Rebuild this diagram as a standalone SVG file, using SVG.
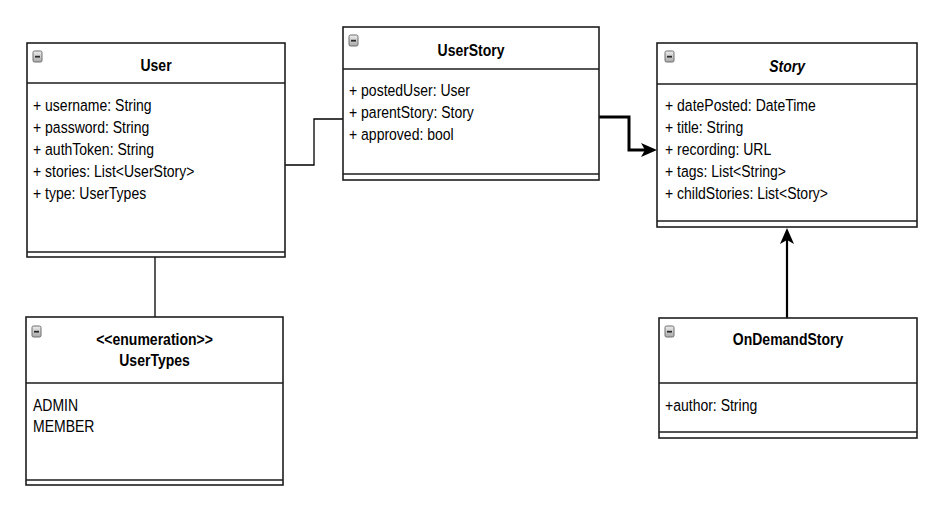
<svg xmlns="http://www.w3.org/2000/svg" width="943" height="510" viewBox="0 0 943 510">
  <defs>
    <linearGradient id="iconFill" x1="0" y1="0" x2="0" y2="1">
      <stop offset="0" stop-color="#eeeeee"/>
      <stop offset="1" stop-color="#a8a8a8"/>
    </linearGradient>
    <!-- collapse button shown in each class header -->
    <g id="collapse">
      <rect x="0" y="0" width="9" height="11" rx="1.5" fill="url(#iconFill)" stroke="#6e6e6e" stroke-width="1"/>
      <rect x="2" y="4.8" width="5" height="1.8" fill="#2a2a2a"/>
    </g>
    <marker id="classic" viewBox="0 0 16 14" refX="4" refY="7" markerWidth="16" markerHeight="14" markerUnits="userSpaceOnUse" orient="auto">
      <path d="M0,0 L16,7 L0,14 L4,7 Z" fill="#000"/>
    </marker>
  </defs>
  <style>
    .box { fill: #fff; stroke: #1e1e1e; stroke-width: 1.6; }
    .sep { stroke: #1e1e1e; stroke-width: 1.6; fill: none; }
    .title { font-family: "Liberation Sans", Arial, Helvetica, sans-serif; font-size: 17px; font-weight: bold; text-anchor: middle; fill: #000; }
    .attr { font-family: "Liberation Sans", Arial, Helvetica, sans-serif; font-size: 17px; fill: #000; }
    .thin { stroke: #000; stroke-width: 1.3; fill: none; }
    .bold { stroke: #000; stroke-width: 3; fill: none; }
    .gen { stroke: #000; stroke-width: 2.2; fill: none; }
  </style>
  <rect width="943" height="510" fill="#fff"/>

  <!-- connectors -->
  <g id="connectors">
    <path class="thin" d="M285,165 H314 V119 H343"/>
    <path class="thin" d="M155,257 V317"/>
    <path class="bold" d="M599,117 H629 V150 H645" marker-end="url(#classic)"/>
    <path class="gen" d="M787,318 V240" marker-end="url(#classic)"/>
  </g>

  <!-- User -->
  <g id="User">
    <rect class="box" x="27" y="43" width="258" height="214"/>
    <path class="sep" d="M27,83 H285 M27,252 H285"/>
    <use href="#collapse" x="33" y="51"/>
    <g transform="translate(33 0) scale(0.824 1)">
      <text class="title" x="149.3" y="71">User</text>
      <text class="attr" x="0" y="111">+ username: String</text>
      <text class="attr" x="0" y="133">+ password: String</text>
      <text class="attr" x="0" y="155">+ authToken: String</text>
      <text class="attr" x="0" y="177">+ stories: List&lt;UserStory&gt;</text>
      <text class="attr" x="0" y="199">+ type: UserTypes</text>
    </g>
  </g>

  <!-- UserStory -->
  <g id="UserStory">
    <rect class="box" x="343" y="27" width="256" height="153"/>
    <path class="sep" d="M343,69 H599 M343,174 H599"/>
    <use href="#collapse" x="349" y="35"/>
    <g transform="translate(349 0) scale(0.824 1)">
      <text class="title" x="148.1" y="56">UserStory</text>
      <text class="attr" x="0" y="96">+ postedUser: User</text>
      <text class="attr" x="0" y="118">+ parentStory: Story</text>
      <text class="attr" x="0" y="140">+ approved: bool</text>
    </g>
  </g>

  <!-- Story (abstract) -->
  <g id="Story">
    <rect class="box" x="657" y="43" width="260" height="184"/>
    <path class="sep" d="M657,84 H917 M657,221 H917"/>
    <use href="#collapse" x="665" y="51"/>
    <g transform="translate(665 0) scale(0.824 1)">
      <text class="title" x="148.1" y="72" font-style="italic">Story</text>
      <text class="attr" x="0" y="111">+ datePosted: DateTime</text>
      <text class="attr" x="0" y="133">+ title: String</text>
      <text class="attr" x="0" y="155">+ recording: URL</text>
      <text class="attr" x="0" y="177">+ tags: List&lt;String&gt;</text>
      <text class="attr" x="0" y="199">+ childStories: List&lt;Story&gt;</text>
    </g>
  </g>

  <!-- UserTypes enumeration -->
  <g id="UserTypes">
    <rect class="box" x="26" y="317" width="257" height="168"/>
    <path class="sep" d="M26,383 H283 M26,480 H283"/>
    <use href="#collapse" x="32" y="326"/>
    <g transform="translate(33 0) scale(0.824 1)">
      <text class="title" x="147.5" y="345">&lt;&lt;enumeration&gt;&gt;</text>
      <text class="title" x="147.5" y="366">UserTypes</text>
      <text class="attr" x="0" y="411">ADMIN</text>
      <text class="attr" x="0" y="432">MEMBER</text>
    </g>
  </g>

  <!-- OnDemandStory -->
  <g id="OnDemandStory">
    <rect class="box" x="659" y="318" width="258" height="120"/>
    <path class="sep" d="M659,383 H917 M659,432 H917"/>
    <use href="#collapse" x="665" y="326"/>
    <g transform="translate(665 0) scale(0.824 1)">
      <text class="title" x="149.3" y="345">OnDemandStory</text>
      <text class="attr" x="0" y="411">+author: String</text>
    </g>
  </g>
</svg>
